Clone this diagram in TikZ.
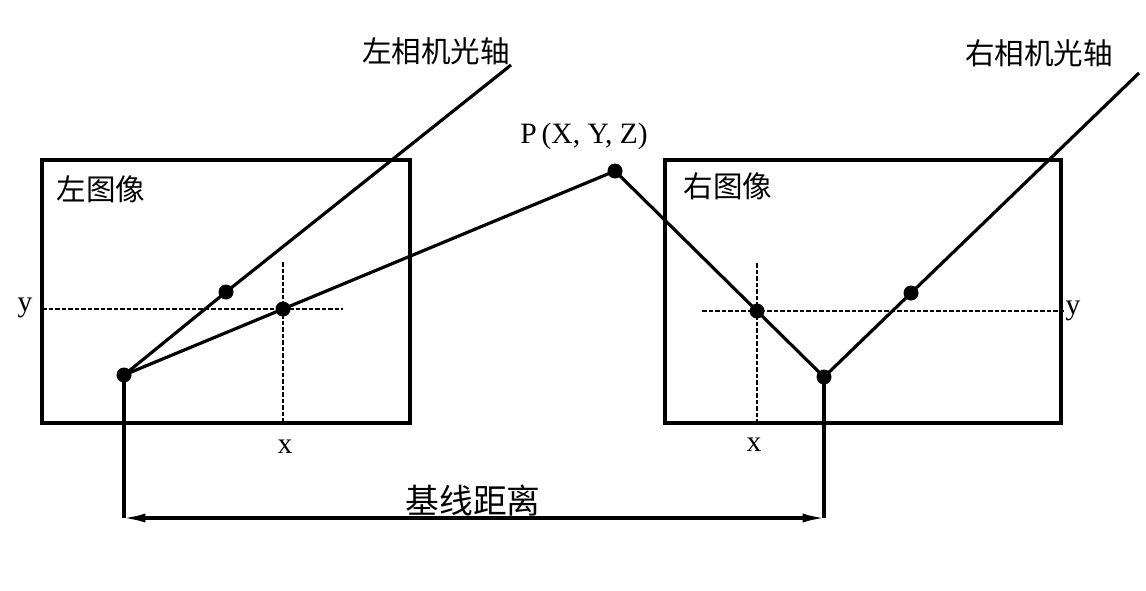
\documentclass[tikz,border=0pt]{standalone}
\usepackage{fontspec}
\setmainfont{Liberation Serif}
\newfontfamily\cjk{Noto Sans CJK SC}
\usetikzlibrary{arrows.meta}

\tikzset{
  dot/.style={circle,fill=black,inner sep=0pt,minimum size=0.15cm},
  ray/.style={line width=0.9pt},
  frame/.style={line width=0.9pt},
  guide/.style={line width=0.3pt,dash pattern=on 1.3pt off 0.55pt},
  cjklbl/.style={font=\cjk\fontsize{8.4}{10}\selectfont,inner sep=0pt},
  axlbl/.style={font=\fontsize{8.4}{10}\selectfont,inner sep=0pt},
}

\begin{document}
\begin{tikzpicture}[x=0.01cm,y=-0.01cm]
\useasboundingbox (0,0) rectangle (1146,590);

% image planes:
\draw[frame] (42,160) rectangle (410,423);
\draw[frame] (665,160) rectangle (1061,423);

% points:
\node[dot] (fl) at (124,375) {};
\node[dot] (al) at (226,292) {};
\node[dot] (pl) at (283,309) {};
\node[dot] (P) at (615,171) {};
\node[dot] (pr) at (757,311) {};
\node[dot] (fr) at (824,377) {};
\node[dot] (ar) at (911,293) {};
\coordinate (alend) at (511,65);
\coordinate (arend) at (1139,73);
\coordinate (bl) at (124,518);
\coordinate (br) at (824,518);

% image axes (dashed):
\coordinate (lxa) at (42,309);
\coordinate (lxb) at (343,309);
\coordinate (lya) at (283,262);
\coordinate (lyb) at (283,423);
\coordinate (rxa) at (702,311);
\coordinate (rxb) at (1066,311);
\coordinate (rya) at (757,263);
\coordinate (ryb) at (757,423);
\draw[guide] (lxa) -- (lxb);
\draw[guide] (lya) -- (lyb);
\draw[guide] (rxa) -- (rxb);
\draw[guide] (rya) -- (ryb);

% optical axes and rays:
\draw[ray] (fl.center) -- (al.center) -- (alend);
\draw[ray] (fr.center) -- (ar.center) -- (arend);
\draw[ray] (fl.center) -- (pl.center) -- (P.center) -- (pr.center) -- (fr.center);

% baseline:
\draw[ray] (fl.center) -- (bl);
\draw[ray] (fr.center) -- (br);
\draw[ray,shorten <=-0.4pt,shorten >=-0.4pt,{Latex[length=6.5pt,width=2.6pt]}-{Latex[length=6.5pt,width=2.6pt]}] (bl) -- (br);

% labels:
\node[cjklbl] (lcam) at (436,51) {左相机光轴};
\node[cjklbl] (rcam) at (1039,53) {右相机光轴};
\node[cjklbl] (limg) at (101,189) {左图像};
\node[cjklbl] (rimg) at (728,186) {右图像};
\node[cjklbl,font=\cjk\fontsize{9.6}{11}\selectfont] (base) at (473,501) {基线距离};
\node[axlbl] (Plbl) at (584,136) {P\,(X, Y, Z)};
\node[axlbl] (ly) at (25,308) {y};
\node[axlbl] (lx) at (285,447) {x};
\node[axlbl] (ry) at (1073,311) {y};
\node[axlbl] (rx) at (754,445) {x};

\end{tikzpicture}
\end{document}
